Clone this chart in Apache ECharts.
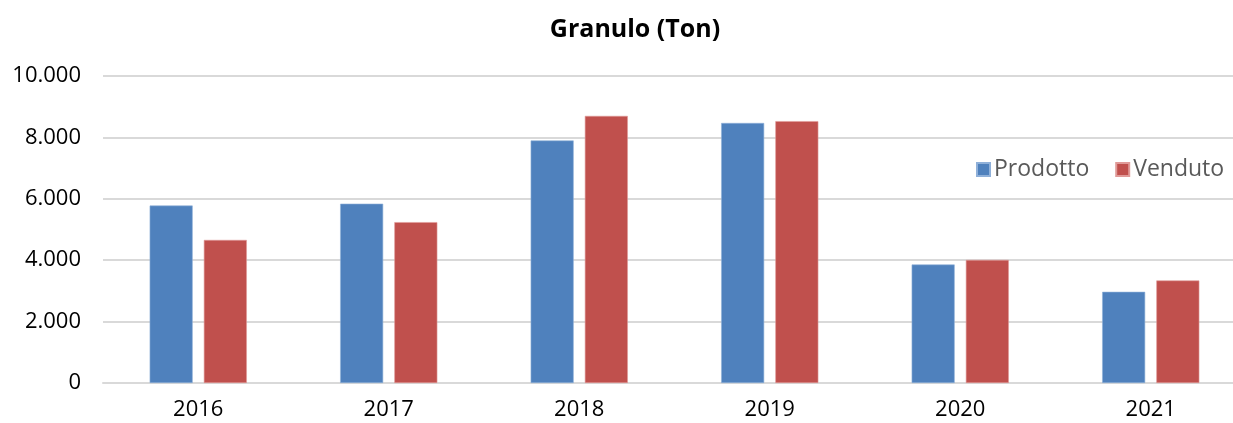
<!DOCTYPE html>
<html><head><meta charset="utf-8">
<script src="https://cdn.jsdelivr.net/npm/echarts@6/dist/echarts.min.js"></script>
<style>html,body{margin:0;padding:0;background:#fff}#c{width:1233px;height:423px}</style>
</head><body><div id="c"></div>
<script>
const categories = ['2016','2017','2018','2019','2020','2021'];
const prodotto = [5780, 5840, 7900, 8470, 3860, 2970];
const venduto = [4660, 5240, 8700, 8530, 4010, 3340];
const yTicks = [0, 2000, 4000, 6000, 8000, 10000];
const seriesNames = ['Prodotto', 'Venduto'];

const FONT = '"Open Sans", "DejaVu Sans", sans-serif';
const fmt = v => v === 0 ? '0' : String(v).replace(/\B(?=(\d{3})+(?!\d))/g, '.');
const chart = echarts.init(document.getElementById('c'), null, {renderer: 'canvas'});
chart.setOption({
  animation: false,
  backgroundColor: '#fff',
  title: {
    text: 'Granulo (Ton)', left: 630, top: 12, textAlign: 'center',
    textStyle: {fontFamily: FONT, fontWeight: 'bold', fontSize: 25, color: '#000'}
  },
  legend: {
    data: seriesNames, left: 976, top: 158, width: 300, padding: 0, orient: 'horizontal',
    itemWidth: 13, itemHeight: 13, itemGap: 26, icon: 'rect',
    textStyle: {fontFamily: FONT, fontSize: 23, color: '#595959', padding: [0,0,0,-1]}
  },
  grid: {left: 103, top: 76, width: 1143, height: 307, containLabel: false, outerBoundsMode: 'none'},
  xAxis: {
    type: 'category', data: categories,
    axisLine: {lineStyle: {color: '#d9d9d9', width: 2}},
    axisTick: {show: false},
    axisLabel: {fontFamily: FONT, fontSize: 22, color: '#000', margin: 16}
  },
  yAxis: {
    type: 'value', min: yTicks[0], max: yTicks[yTicks.length-1], interval: 2000,
    axisLine: {show: false}, axisTick: {show: false},
    splitLine: {lineStyle: {color: '#d9d9d9', width: 2}},
    axisLabel: {fontFamily: FONT, fontSize: 22, color: '#000', margin: 22, formatter: fmt}
  },
  series: [
    {name: seriesNames[0], type: 'bar', data: prodotto, barWidth: 43, barGap: '26%',
     itemStyle: {color: '#4f81bd', borderColor: '#8fb0d9', borderWidth: 0.6}},
    {name: seriesNames[1], type: 'bar', data: venduto, barWidth: 43, barGap: '26%',
     itemStyle: {color: '#c0504d', borderColor: '#e09a98', borderWidth: 0.6}}
  ]
});
</script></body></html>
